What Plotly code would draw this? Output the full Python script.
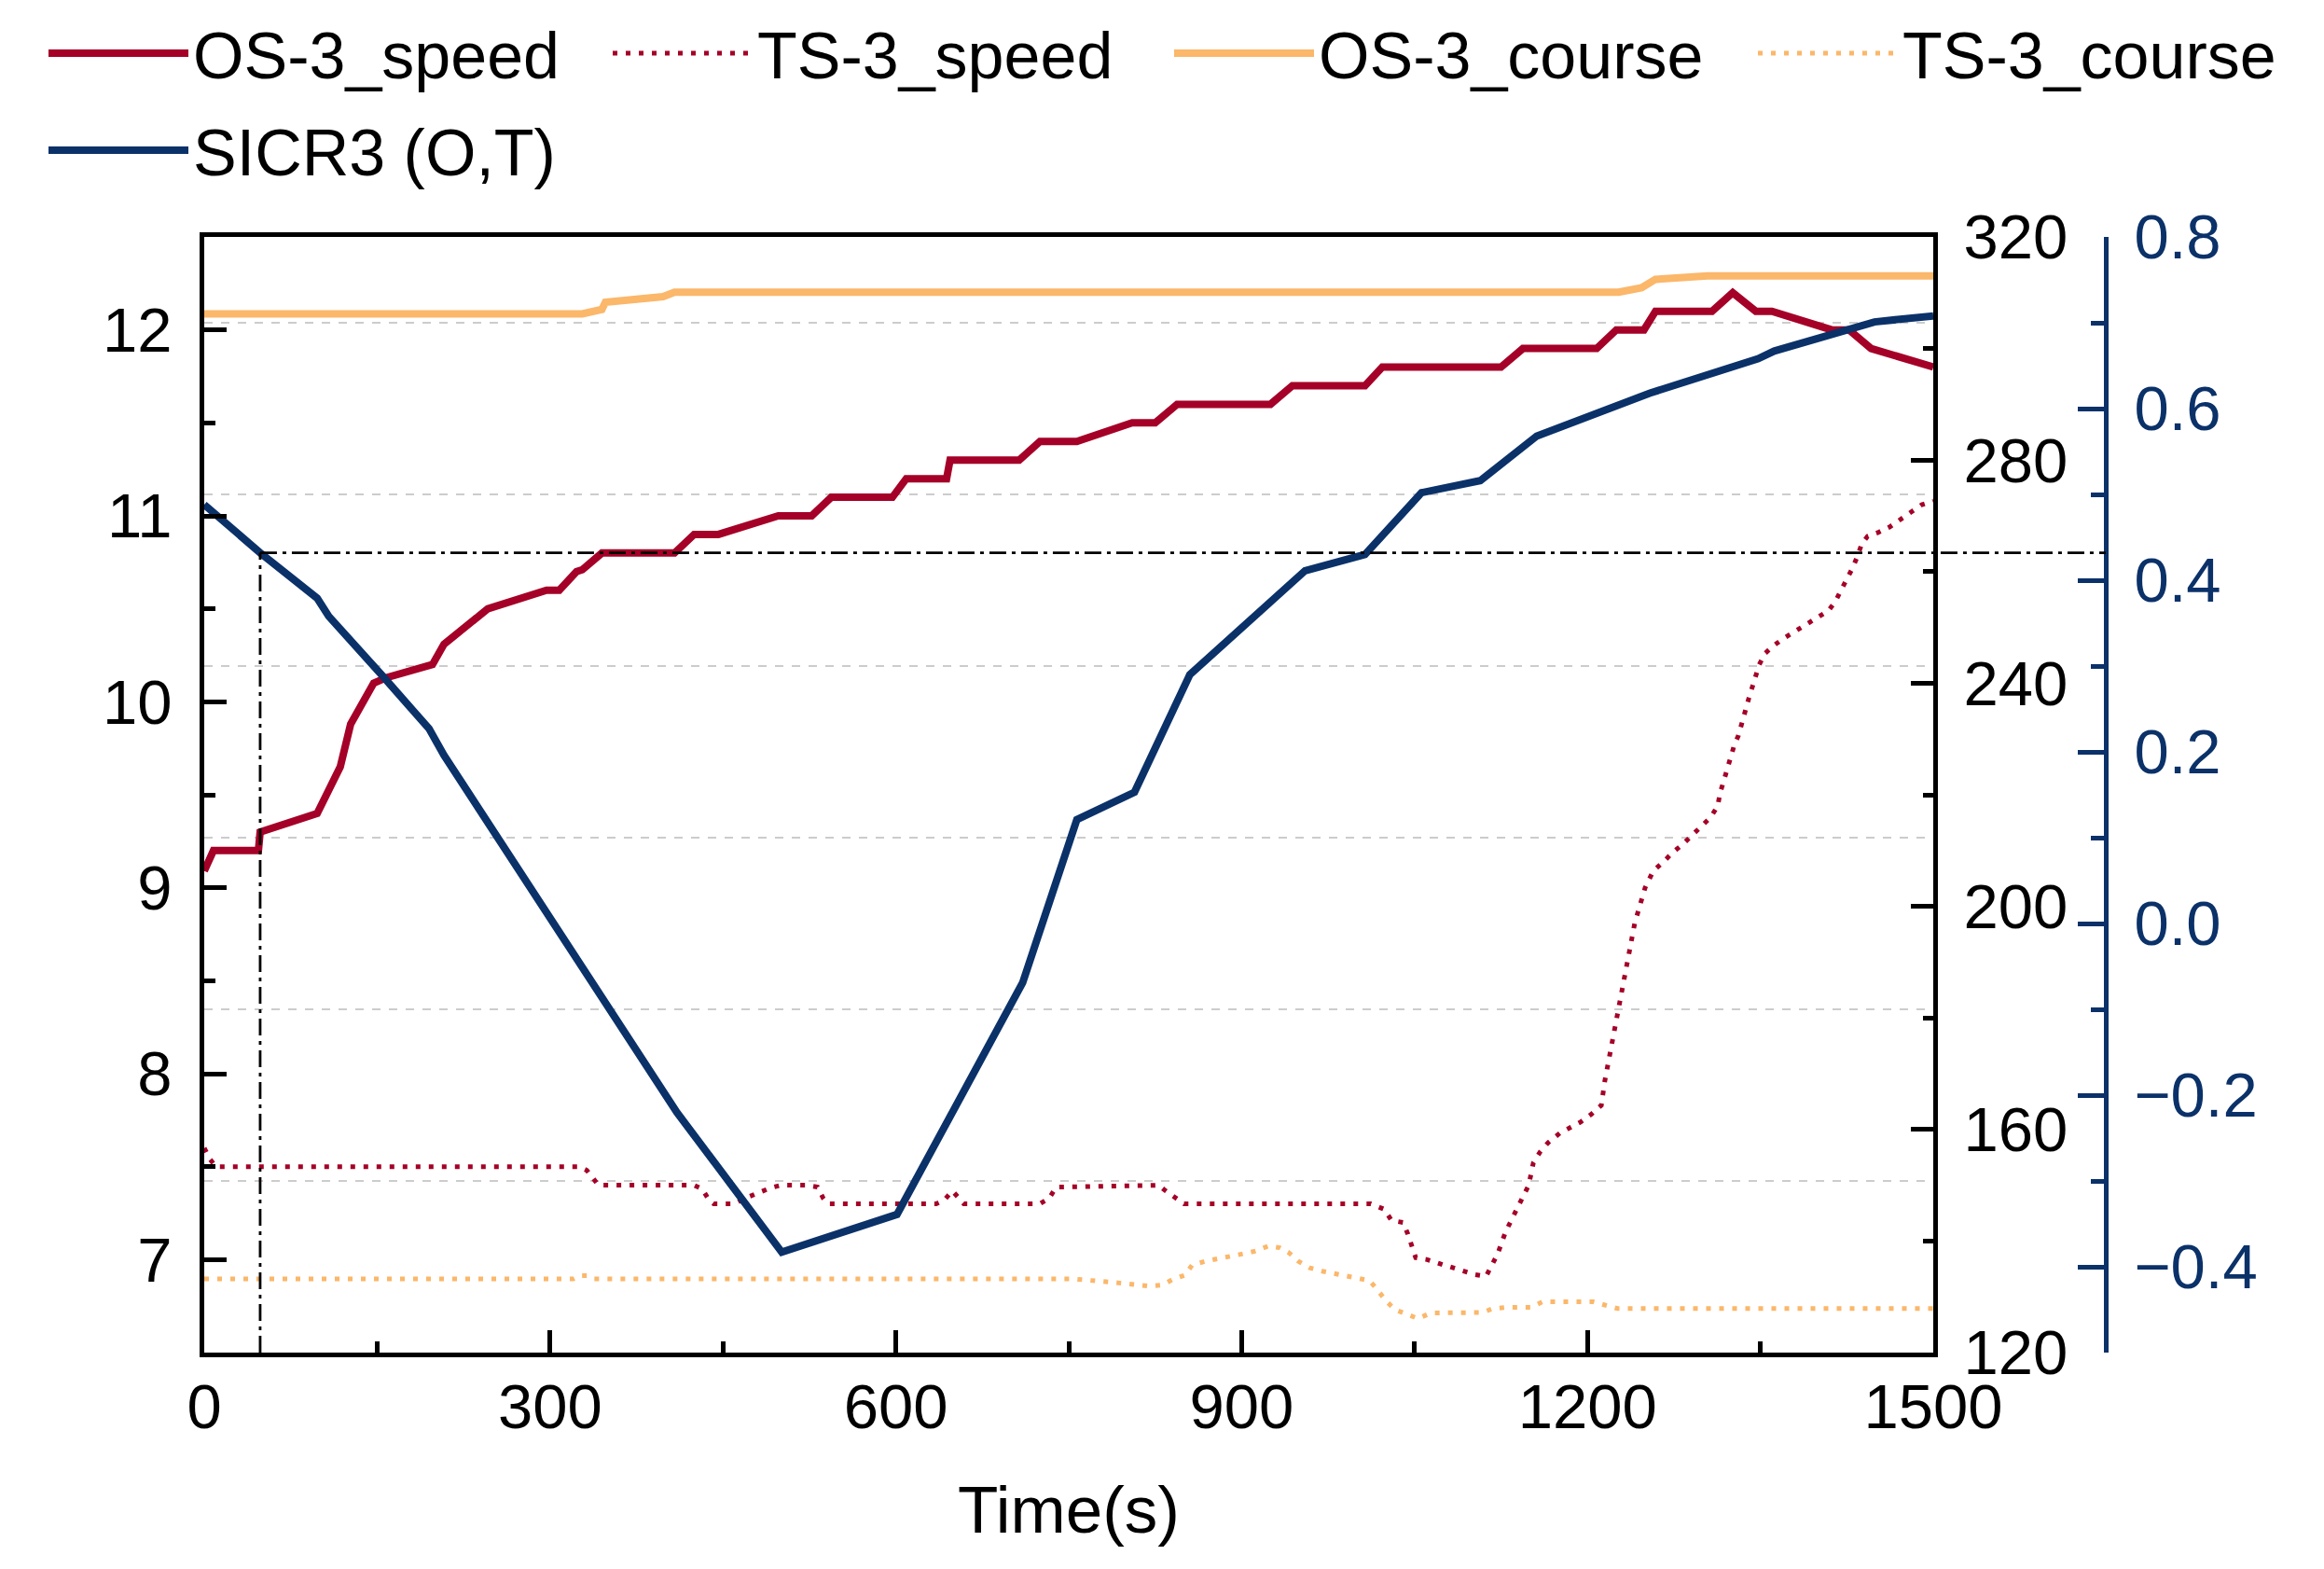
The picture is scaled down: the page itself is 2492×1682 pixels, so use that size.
import plotly.graph_objects as go

# ---------------- data ----------------
os_speed_t = [0, 8, 47, 48.5, 98, 110, 118, 127, 132, 147, 158, 198, 208, 225, 228, 246, 297, 308, 323, 328, 345,
              408, 425, 446, 498, 527, 544, 597, 609, 644, 647, 707, 725, 757, 805, 825, 844, 925, 944, 1007, 1022,
              1125, 1144, 1208, 1225, 1249, 1259, 1308, 1326, 1346, 1360, 1412, 1427, 1446, 1500]
os_speed = [9.09, 9.2, 9.2, 9.3, 9.4, 9.54, 9.65, 9.88, 9.94, 10.1, 10.13, 10.2, 10.31, 10.4, 10.41, 10.5, 10.6, 10.6,
            10.7, 10.71, 10.8, 10.8, 10.9, 10.9, 11.0, 11.0, 11.1, 11.1, 11.2, 11.2, 11.3, 11.3, 11.4, 11.4, 11.5,
            11.5, 11.6, 11.6, 11.7, 11.7, 11.8, 11.8, 11.9, 11.9, 12.0, 12.0, 12.1, 12.1, 12.2, 12.1, 12.1, 12.0,
            12.0, 11.9, 11.8]

ts_speed_t = [0, 5, 10, 325, 332, 338, 342, 425, 432, 438, 442, 460, 469, 479, 491, 500, 523, 532, 537, 541, 635,
              642, 649, 659, 725, 733, 739, 828, 834, 850, 1012, 1024, 1030, 1040, 1044, 1051, 1061, 1071, 1093,
              1102, 1112, 1117, 1122, 1129, 1139, 1149, 1153, 1159, 1166, 1176, 1185, 1194, 1203, 1212, 1215, 1224,
              1233, 1241, 1250, 1257, 1266, 1274, 1282, 1290, 1298, 1307, 1313, 1315, 1318, 1321, 1327, 1331, 1334,
              1336, 1340, 1343, 1346, 1349, 1354, 1361, 1370, 1380, 1389, 1399, 1409, 1415, 1420, 1425, 1430, 1434,
              1438, 1443, 1452, 1462, 1471, 1481, 1490, 1500]
ts_speed = [7.6, 7.54, 7.5, 7.5, 7.48, 7.43, 7.4, 7.4, 7.38, 7.32, 7.3, 7.3, 7.33, 7.355, 7.385, 7.4, 7.4, 7.39,
            7.33, 7.3, 7.3, 7.32, 7.37, 7.3, 7.3, 7.33, 7.39, 7.4, 7.37, 7.3, 7.3, 7.27, 7.21, 7.2, 7.14, 7.01, 7.0,
            6.98, 6.94, 6.92, 6.91, 6.97, 7.03, 7.15, 7.28, 7.4, 7.52, 7.58, 7.63, 7.68, 7.71, 7.74, 7.78, 7.83,
            7.96, 8.26, 8.54, 8.81, 9.0, 9.09, 9.14, 9.19, 9.23, 9.28, 9.33, 9.38, 9.44, 9.51, 9.57, 9.64, 9.76,
            9.82, 9.89, 9.95, 10.02, 10.08, 10.14, 10.2, 10.26, 10.3, 10.34, 10.38, 10.41, 10.45, 10.49, 10.54,
            10.6, 10.65, 10.72, 10.78, 10.85, 10.89, 10.91, 10.94, 10.98, 11.02, 11.06, 11.08]

os_course_t = [0, 328, 345, 348, 398, 408, 1227, 1247, 1259, 1304, 1500]
os_course = [306.2, 306.2, 307.0, 308.3, 309.3, 310.1, 310.1, 310.9, 312.4, 313.0, 313.0]

ts_course_t = [0, 320, 326, 332, 338, 754, 788, 820, 831, 840, 851, 857, 869, 880, 890, 901, 912, 923, 933, 941,
               949, 959, 970, 980, 991, 1002, 1011, 1018, 1025, 1033, 1044, 1053, 1064, 1109, 1118, 1129, 1151,
               1161, 1205, 1215, 1226, 1500]
ts_course = [133.2, 133.2, 133.8, 133.8, 133.2, 133.2, 132.6, 131.9, 132.1, 133.1, 133.9, 135.7, 136.4, 136.8,
             137.2, 137.7, 138.2, 139.1, 138.8, 137.9, 136.4, 135.2, 134.6, 134.2, 133.8, 133.3, 132.9, 131.2,
             129.3, 127.7, 126.7, 126.1, 127.1, 127.2, 127.9, 128.1, 128.1, 129.1, 129.1, 128.6, 127.9, 127.9]

sicr_t = [0, 48.5, 98, 108, 155, 195, 208, 282, 410, 501, 601, 710, 757, 807, 855, 955, 1007, 1056, 1107, 1156,
          1254, 1348, 1362, 1449, 1500]
sicr = [0.488, 0.432, 0.379, 0.358, 0.288, 0.227, 0.196, 0.045, -0.22, -0.383, -0.339, -0.069, 0.121, 0.153, 0.29,
        0.411, 0.43, 0.502, 0.516, 0.568, 0.618, 0.658, 0.667, 0.701, 0.708]

threshold_t = 48.5
threshold_sicr = 0.432

x_range = [0, 1500]
speed_range = [6.5, 12.5]
course_range = [120, 320]
sicr_range = [-0.5, 0.8]

# ---------------- style ----------------
RED = "#A50027"
NAVY = "#0B3169"
ORANGE = "#FBB76A"
FONT = "Liberation Sans, Arial, sans-serif"
W, H = 2492, 1682
ML, MR, MT, MB = 211, 242, 246, 240
X_DOMAIN_END = 0.9093
AXW = 5
LW = 8
DOT = "5px,9px"

fig = go.Figure()
fig.add_trace(go.Scatter(x=os_speed_t, y=os_speed, name="OS-3_speed", mode="lines",
                         line=dict(color=RED, width=LW), yaxis="y", legend="legend"))
fig.add_trace(go.Scatter(x=ts_speed_t, y=ts_speed, name="TS-3_speed", mode="lines",
                         line=dict(color=RED, width=5, dash=DOT), yaxis="y", legend="legend2"))
fig.add_trace(go.Scatter(x=os_course_t, y=os_course, name="OS-3_course", mode="lines",
                         line=dict(color=ORANGE, width=LW), yaxis="y2", legend="legend3"))
fig.add_trace(go.Scatter(x=ts_course_t, y=ts_course, name="TS-3_course", mode="lines",
                         line=dict(color=ORANGE, width=5, dash=DOT), yaxis="y2", legend="legend4"))
fig.add_trace(go.Scatter(x=sicr_t, y=sicr, name="SICR3 (O,T)", mode="lines",
                         line=dict(color=NAVY, width=LW), yaxis="y3", legend="legend5"))

TICK_SIZE = 67
tickfont = dict(family=FONT, size=TICK_SIZE, color="black")
legfont = dict(family=FONT, size=70, color="black")


def leg(x_px, y_px):
    return dict(orientation="h", xref="container", yref="container",
                x=(x_px - 13) / W, y=1 - y_px / H, xanchor="left", yanchor="middle",
                font=legfont, itemwidth=150, bgcolor="rgba(0,0,0,0)")


fig.update_layout(
    width=W, height=H,
    margin=dict(l=ML, r=MR, t=MT, b=MB, autoexpand=False),
    paper_bgcolor="white", plot_bgcolor="white",
    font=dict(family=FONT, size=TICK_SIZE, color="black"),
    showlegend=True,
    legend=leg(52, 49), legend2=leg(657, 49), legend3=leg(1259, 49), legend4=leg(1885, 49),
    legend5=leg(52, 153),
    xaxis=dict(domain=[0, X_DOMAIN_END], range=x_range, dtick=300, tick0=0,
               showline=True, linecolor="black", linewidth=AXW, mirror=True,
               ticks="inside", ticklen=24, tickwidth=AXW, tickcolor="black",
               minor=dict(dtick=150, ticks="inside", ticklen=12, tickwidth=AXW, tickcolor="black"),
               showgrid=False, zeroline=False, tickfont=tickfont, ticklabelstandoff=-4, automargin=False,
               title=dict(text="Time(s)", font=dict(family=FONT, size=71, color="black"), standoff=50)),
    yaxis=dict(range=speed_range, dtick=1, tick0=7,
               showline=True, linecolor="black", linewidth=AXW,
               ticks="inside", ticklen=24, tickwidth=AXW, tickcolor="black",
               minor=dict(dtick=0.5, ticks="inside", ticklen=12, tickwidth=AXW, tickcolor="black"),
               showgrid=False, zeroline=False, tickfont=tickfont, ticklabelstandoff=16, automargin=False),
    yaxis2=dict(range=course_range, dtick=40, tick0=120, overlaying="y", side="right", anchor="x",
                showline=True, linecolor="black", linewidth=AXW,
                ticks="inside", ticklen=24, tickwidth=AXW, tickcolor="black",
                minor=dict(dtick=20, ticks="inside", ticklen=11, tickwidth=AXW, tickcolor="black"),
                showgrid=False, zeroline=False, tickfont=tickfont, ticklabelstandoff=14, automargin=False),
    yaxis3=dict(range=sicr_range, dtick=0.2, tick0=0, overlaying="y", side="right", anchor="free",
                position=1.0, tickformat=".1f",
                showline=True, linecolor=NAVY, linewidth=AXW,
                ticks="inside", ticklen=28, tickwidth=AXW, tickcolor=NAVY,
                minor=dict(dtick=0.1, ticks="inside", ticklen=14, tickwidth=AXW, tickcolor=NAVY,
                           showgrid=True, gridcolor="#CCCCCC", gridwidth=2, griddash="dash"),
                showgrid=False, zeroline=False, automargin=False,
                tickfont=dict(family=FONT, size=TICK_SIZE, color=NAVY), ticklabelstandoff=14),
)

# threshold guide lines (dash-dot)
dashdot = "18px,6px,4px,6px"
fig.add_shape(type="line", xref="x", yref="y3", x0=threshold_t, x1=threshold_t,
              y0=sicr_range[0], y1=threshold_sicr, line=dict(color="black", width=2.8, dash=dashdot))
fig.add_shape(type="line", xref="paper", yref="y3",
              x0=threshold_t / x_range[1] * X_DOMAIN_END, x1=1.0,
              y0=threshold_sicr, y1=threshold_sicr, line=dict(color="black", width=2.8, dash=dashdot))

fig.write_html("out.html")
